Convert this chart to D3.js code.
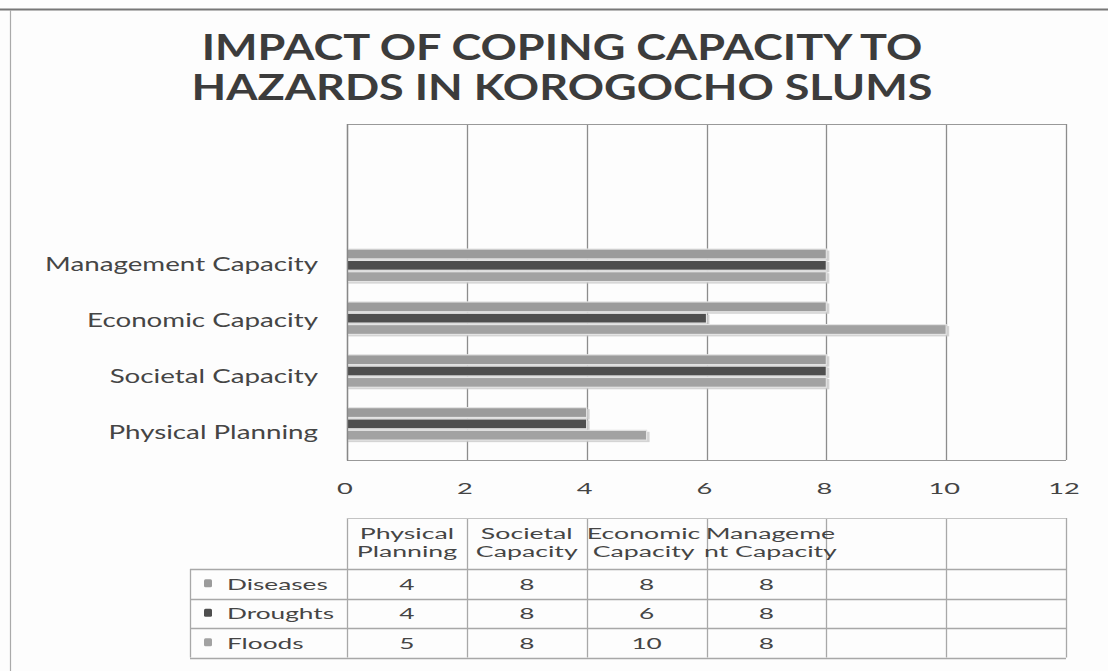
<!DOCTYPE html>
<html>
<head>
<meta charset="utf-8">
<script src="https://cdn.jsdelivr.net/npm/d3@7"></script>
<style>
  html, body { margin: 0; padding: 0; background: #fff; }
  svg { display: block; }
  text { font-family: Lato, "Open Sans", sans-serif; fill: #444; }
</style>
</head>
<body>
<svg id="chart" width="1108" height="671"></svg>
<script>
// ---------- DATA ----------
const titleLines = ["IMPACT OF COPING CAPACITY TO", "HAZARDS IN KOROGOCHO SLUMS"];
const categories = ["Physical Planning", "Societal Capacity", "Economic Capacity", "Management Capacity", "", ""];
const headerLines = [["Physical", "Planning"], ["Societal", "Capacity"], ["Economic", "Capacity"], ["Manageme", "nt Capacity"], [], []];
const seriesNames = ["Diseases", "Droughts", "Floods"];
const diseases = [4, 8, 8, 8];
const droughts = [4, 8, 6, 8];
const floods = [5, 8, 10, 8];
const xTicks = [0, 2, 4, 6, 8, 10, 12];
const seriesColors = ["#9b9b9b", "#4e4e4e", "#a2a2a2"];

const seriesValues = [diseases, droughts, floods];

// ---------- LAYOUT ----------
const svg = d3.select("#chart");
const plot = { left: 347, right: 1066, top: 124, bottom: 460 };

function stext(g, str, x, y, size, anchor, weight, color, sx) {
  return g.append("text")
    .attr("transform", `translate(${x},${y}) scale(${sx},1)`)
    .attr("text-anchor", anchor || "middle")
    .style("font-size", size + "px")
    .style("font-weight", weight || "normal")
    .style("fill", color || "#444")
    .text(str);
}

// frame
svg.append("rect").attr("x", 0).attr("y", 0).attr("width", 1108).attr("height", 671).attr("fill", "#fdfdfd");
svg.append("line").attr("x1", 0).attr("x2", 1108).attr("y1", 9.5).attr("y2", 9.5).attr("stroke", "#777").attr("stroke-width", 2);
svg.append("line").attr("x1", 10.5).attr("x2", 10.5).attr("y1", 10).attr("y2", 671).attr("stroke", "#aaa").attr("stroke-width", 1.2);

// title
const tg = svg.append("g");
titleLines.forEach((t, i) => stext(tg, t, 562, 60 + i * 40, 36, "middle", "bold", "#3c3c3c", 1.25));

// scales
const x = d3.scaleLinear().domain([0, 12]).range([plot.left, plot.right]);
const y = d3.scaleBand().domain(d3.range(categories.length)).range([plot.bottom, plot.top]).padding(0.357);
const yInner = d3.scaleBand().domain(seriesNames).range([0, y.bandwidth()]);
const yCat = d3.scaleBand().domain(d3.range(categories.length)).range([plot.bottom, plot.top]);

// gridlines
const grid = svg.append("g");
grid.selectAll("line").data(xTicks).join("line")
  .attr("x1", d => Math.round(x(d)) + 0.5).attr("x2", d => Math.round(x(d)) + 0.5)
  .attr("y1", plot.top).attr("y2", plot.bottom)
  .attr("stroke", "#8c8c8c").attr("stroke-width", 1.3);
grid.append("line").attr("x1", plot.left).attr("x2", plot.right).attr("y1", plot.top + 0.5).attr("y2", plot.top + 0.5)
  .attr("stroke", "#999").attr("stroke-width", 1.2);
grid.append("line").attr("x1", plot.left).attr("x2", plot.right).attr("y1", plot.bottom + 0.5).attr("y2", plot.bottom + 0.5)
  .attr("stroke", "#999").attr("stroke-width", 1.2);

// bars
const bars = [];
seriesValues.forEach((vals, si) => vals.forEach((v, ci) => bars.push({ s: seriesNames[si], si, ci, v })));
const bg = svg.append("g");
bg.selectAll("rect.sh").data(bars).join("rect").attr("class", "sh")
  .attr("x", x(0) + 1).attr("y", d => y(d.ci) + yInner(d.s) + 2)
  .attr("width", d => x(d.v) - x(0) + 2).attr("height", yInner.bandwidth() - 1)
  .attr("fill", "#c9c9c9").attr("opacity", 0.8);
bg.selectAll("rect.bar").data(bars).join("rect").attr("class", "bar")
  .attr("x", x(0)).attr("y", d => y(d.ci) + yInner(d.s) + 0.5)
  .attr("width", d => x(d.v) - x(0)).attr("height", yInner.bandwidth() - 1.5)
  .attr("fill", d => seriesColors[d.si])
  .attr("stroke", "#e4e4e4").attr("stroke-width", 1.2);

// left axis line on top
svg.append("line").attr("x1", plot.left + 0.5).attr("x2", plot.left + 0.5).attr("y1", plot.top).attr("y2", plot.bottom + 1)
  .attr("stroke", "#888").attr("stroke-width", 1.3);

// category labels
const cg = svg.append("g");
categories.forEach((c, i) => { if (c) stext(cg, c, 318, yCat(i) + yCat.bandwidth() / 2 + 7, 18.5, "end", "normal", "#454545", 1.5); });

// x tick labels
const xg = svg.append("g");
xTicks.forEach(t => stext(xg, String(t), x(t) - 2, 494, 16, "middle", "normal", "#444", 1.7));

// ---------- DATA TABLE ----------
const tab = { top: 518, header: 569, rowH: 29.5, left: 190 };
const col = d3.scaleBand().domain(d3.range(categories.length)).range([plot.left, plot.right]);
const tbl = svg.append("g");
const lineC = "#a8a8a8";
const tBottom = tab.header + tab.rowH * seriesNames.length;
d3.range(categories.length + 1).forEach(i => {
  const xx = Math.round(plot.left + i * col.step()) + 0.5;
  tbl.append("line").attr("x1", xx).attr("x2", xx).attr("y1", tab.top).attr("y2", tBottom).attr("stroke", lineC).attr("stroke-width", 1.3);
});
tbl.append("line").attr("x1", tab.left + 0.5).attr("x2", tab.left + 0.5).attr("y1", tab.header).attr("y2", tBottom).attr("stroke", lineC).attr("stroke-width", 1.3);
tbl.append("line").attr("x1", plot.left).attr("x2", plot.right).attr("y1", tab.top + 0.5).attr("y2", tab.top + 0.5).attr("stroke", "#c4c4c4");
d3.range(seriesNames.length + 1).forEach(r => {
  const yy = Math.round(tab.header + r * tab.rowH) + 0.5;
  tbl.append("line").attr("x1", tab.left).attr("x2", plot.right).attr("y1", yy).attr("y2", yy).attr("stroke", lineC).attr("stroke-width", 1.3);
});
headerLines.forEach((lines, i) => lines.forEach((ln, k) => stext(tbl, ln, col(i) + col.bandwidth() / 2 + (i === 2 ? -3 : i === 3 ? 4 : 0), 539 + k * 17.5, 15, "middle", "normal", "#454545", 1.78)));
seriesNames.forEach((s, r) => {
  const cy = tab.header + r * tab.rowH + tab.rowH / 2;
  tbl.append("rect").attr("x", 204).attr("y", cy - 4.5).attr("width", 8).attr("height", 8).attr("rx", 1.5)
    .attr("fill", seriesColors[r]);
  stext(tbl, s, 227, cy + 6, 16, "start", "normal", "#454545", 1.64);
  seriesValues[r].forEach((v, ci) => stext(tbl, String(v), col(ci) + col.bandwidth() / 2, cy + 6, 16, "middle", "normal", "#454545", 1.64));
});
</script>
</body>
</html>
